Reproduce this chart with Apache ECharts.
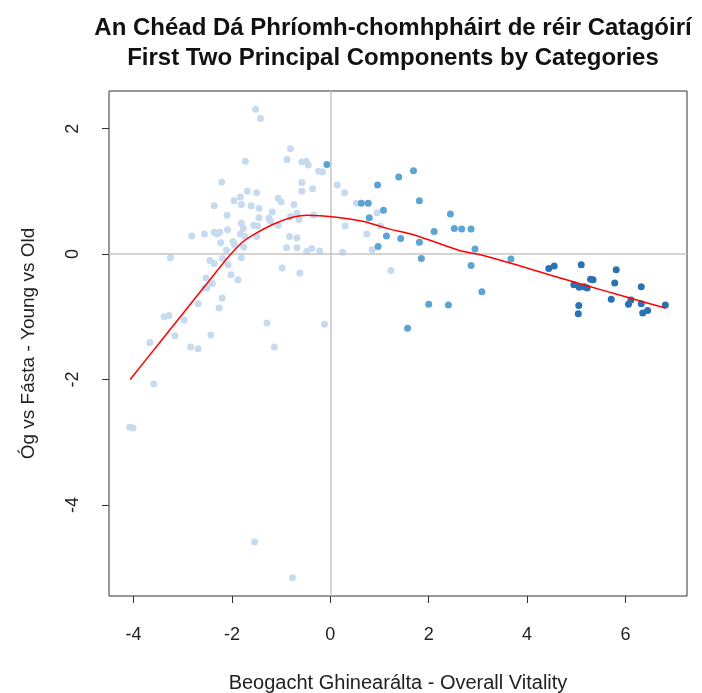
<!DOCTYPE html>
<html><head><meta charset="utf-8">
<script src="https://cdn.jsdelivr.net/npm/echarts@6/dist/echarts.min.js"></script>
<style>html,body{margin:0;padding:0;background:#fff}#c{width:702px;height:693px}</style>
</head><body><div id="c"></div>
<script>
const titleText = 'An Chéad Dá Phríomh-chomhpháirt de réir Catagóirí\nFirst Two Principal Components by Categories';
const xAxisTitle = 'Beogacht Ghinearálta - Overall Vitality';
const yAxisTitle = 'Óg vs Fásta - Young vs Old';
const xTicks = [-4, -2, 0, 2, 4, 6];
const yTicks = [-4, -2, 0, 2];

const lightX = [-1.52,-1.42,-0.81,-0.88,-0.58,-0.49,-0.45,-1.73,-0.24,-0.16,0.14,-2.21,-0.58,-0.58,-0.36,-1.69,-1.50,-1.83,-1.96,-1.81,-1.61,-1.45,-1.06,-1.00,-0.74,-2.36,-2.10,-1.18,-1.45,-1.25,-1.22,-0.68,-0.64,-0.81,-0.34,-1.81,-1.77,-1.56,-1.48,-1.06,-2.09,-2.36,-2.30,-2.25,-2.56,-2.82,-1.83,-1.74,-1.50,-0.83,-0.68,-2.23,-1.98,-1.95,-1.76,-2.11,-0.89,-0.68,-0.38,-0.48,-0.22,-3.25,-2.45,-2.36,-2.08,-1.81,-0.98,-2.19,-0.62,-2.02,-1.88,-2.53,-2.40,-2.55,-2.51,-2.20,-2.69,-2.26,-3.38,-3.28,-2.97,-1.29,-0.12,-3.67,-3.16,-2.43,-2.84,-2.69,-1.14,-3.59,-4.08,-4.01,-1.54,-0.77,0.29,0.53,0.95,0.30,1.02,0.74,0.85,0.25,1.23];
const lightY = [2.31,2.16,1.68,1.51,1.47,1.48,1.42,1.48,1.32,1.31,1.10,1.15,1.14,1.00,1.04,1.00,0.98,0.91,0.85,0.79,0.77,0.73,0.89,0.83,0.79,0.77,0.62,0.67,0.58,0.57,0.53,0.65,0.55,0.60,0.62,0.49,0.41,0.46,0.45,0.46,0.39,0.35,0.32,0.35,0.32,0.29,0.32,0.28,0.28,0.28,0.26,0.18,0.20,0.15,0.11,0.06,0.10,0.10,0.09,0.04,0.05,-0.06,-0.10,-0.15,-0.17,-0.06,-0.22,-0.07,-0.30,-0.33,-0.41,-0.38,-0.47,-0.54,-0.54,-0.70,-0.79,-0.86,-1.00,-0.98,-1.05,-1.10,-1.12,-1.41,-1.30,-1.29,-1.48,-1.51,-1.48,-2.07,-2.76,-2.77,-4.59,-5.16,0.98,0.81,0.66,0.45,0.45,0.32,0.07,0.03,-0.26];

const midX = [-0.07,0.63,0.77,0.96,1.39,1.69,1.81,1.08,0.79,2.44,2.52,2.67,2.86,2.11,1.14,1.43,0.97,1.81,2.94,1.85,2.86,3.67,3.08,2.00,2.40,1.57];
const midY = [1.43,0.81,0.81,1.10,1.23,1.33,0.85,0.70,0.58,0.64,0.41,0.40,0.40,0.36,0.29,0.25,0.12,0.19,0.08,-0.07,-0.18,-0.08,-0.60,-0.80,-0.81,-1.18];

const darkX = [4.44,4.55,5.10,4.95,5.06,5.16,5.22,5.29,5.34,5.05,5.04,5.81,5.78,5.71,6.32,6.11,6.06,6.32,6.35,6.45,6.81];
const darkY = [-0.23,-0.19,-0.17,-0.49,-0.53,-0.52,-0.54,-0.40,-0.41,-0.82,-0.95,-0.25,-0.46,-0.72,-0.52,-0.73,-0.80,-0.79,-0.94,-0.90,-0.81];

const smoothX = [-4.07,-3.5,-3.0,-2.5,-2.1,-1.8,-1.56,-1.15,-0.75,-0.47,-0.21,0.2,0.68,1.15,1.69,2.17,2.71,3.05,3.86,4.5,5.2,6.0,6.81];
const smoothY = [-2.00,-1.44,-0.95,-0.46,-0.07,0.18,0.31,0.48,0.59,0.62,0.61,0.58,0.52,0.41,0.31,0.18,0.04,-0.01,-0.19,-0.34,-0.50,-0.68,-0.86];

const zip = (a, b) => a.map((v, i) => [v, b[i]]);
const FONT = '"Liberation Sans", Arial, sans-serif';

const chart = echarts.init(document.getElementById('c'), null, {renderer: 'canvas'});
const tickStyle = {show: true, inside: false, length: 7, lineStyle: {color: '#333', width: 1}};
chart.setOption({
  animation: false,
  backgroundColor: '#fff',
  title: {
    text: titleText,
    left: 393,
    top: 13,
    padding: 0,
    textAlign: 'center',
    textStyle: {fontFamily: FONT, fontSize: 24, fontWeight: 'bold', color: '#111', lineHeight: 30}
  },
  grid: {left: 109, right: 15, top: 91, bottom: 97, containLabel: false, outerBoundsMode: 'none',
         show: true, borderColor: '#333', borderWidth: 1, backgroundColor: 'transparent'},
  xAxis: {
    type: 'value', min: -4.5, max: 7.25,
    axisLine: {show: false, onZero: false},
    splitLine: {show: false},
    name: xAxisTitle, nameLocation: 'middle', nameGap: 77,
    nameTextStyle: {fontFamily: FONT, fontSize: 20, color: '#222'},
    axisTick: Object.assign({}, tickStyle, {customValues: xTicks}),
    axisLabel: {customValues: xTicks, margin: 30, fontFamily: FONT, fontSize: 18, color: '#222', formatter: v => String(v)}
  },
  yAxis: {
    type: 'value', min: -5.45, max: 2.6,
    axisLine: {show: false, onZero: false},
    splitLine: {show: false},
    name: yAxisTitle, nameLocation: 'middle', nameGap: 71,
    nameTextStyle: {fontFamily: FONT, fontSize: 19, color: '#222'},
    axisTick: Object.assign({}, tickStyle, {customValues: yTicks}),
    axisLabel: {customValues: yTicks, rotate: 90, margin: 27, fontFamily: FONT, fontSize: 18, color: '#222', formatter: v => String(v)}
  },
  series: [
    {
      type: 'line', data: [], silent: true, z: 1,
      markLine: {
        silent: true, symbol: ['none', 'none'], label: {show: false},
        lineStyle: {color: '#c4c4c4', width: 1.5, type: 'solid'},
        data: [{xAxis: 0}, {yAxis: 0}]
      }
    },
    {type: 'scatter', name: 'light', data: zip(lightX, lightY), symbolSize: 7, itemStyle: {color: '#c6dbef', opacity: 1}, z: 2},
    {type: 'scatter', name: 'mid', data: zip(midX, midY), symbolSize: 7, itemStyle: {color: '#5ca4d4', opacity: 1}, z: 3},
    {type: 'scatter', name: 'dark', data: zip(darkX, darkY), symbolSize: 7, itemStyle: {color: '#2a72b4', opacity: 1}, z: 4},
    {type: 'line', name: 'smooth', data: zip(smoothX, smoothY), showSymbol: false, symbol: 'none', smooth: 0.3, lineStyle: {color: '#ff0000', width: 1.5}, z: 5}
  ]
});
</script></body></html>
